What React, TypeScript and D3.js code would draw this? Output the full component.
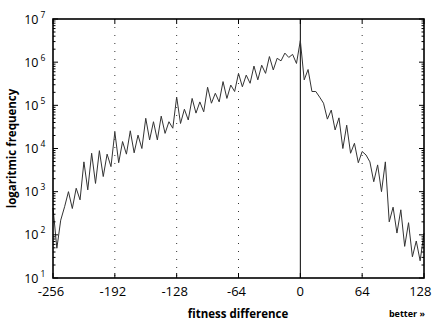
import React from 'react';
import * as d3 from 'd3';

const fitnessDiff = [
  -256, -252, -248, -244, -240, -236, -232, -228, -224, -220, -216, -212, -208, -204, -200, -196,
  -192, -188, -184, -180, -176, -172, -168, -164, -160, -156, -152, -148, -144, -140, -136, -132,
  -128, -124, -120, -116, -112, -108, -104, -100, -96, -92, -88, -84, -80, -76, -72, -68,
  -64, -60, -56, -52, -48, -44, -40, -36, -32, -28, -24, -20, -16, -12, -8, -4,
  0, 4, 8, 12, 16, 20, 24, 28, 32, 36, 40, 44, 48, 52, 56, 60,
  64, 68, 72, 76, 80, 84, 88, 92, 96, 100, 104, 108, 112, 116, 120, 124, 128,
];

const frequency = [
  420, 49, 219, 447, 1000, 407, 1200, 646, 4900, 1100, 7760, 1550, 8900, 2240, 7400, 3800,
  24000, 4680, 14500, 7400, 25700, 7940, 20400, 10000, 50100, 15800, 41700, 15800, 56200, 22400, 41700, 29500,
  155000, 38000, 81300, 45700, 144500, 66000, 120000, 70800, 263000, 112000, 190500, 120000, 355000, 144500, 295000, 209000,
  550000, 269000, 501000, 324000, 813000, 389000, 851000, 550000, 1349000, 661000, 1230000, 1072000, 1622000, 1288000, 1514000, 933000,
  3162000, 389000, 676000, 209000, 209000, 155000, 112000, 47900, 77600, 26900, 51300, 10000, 34700, 7760, 13200, 4680,
  8510, 7080, 4900, 1700, 4170, 1000, 4900, 200, 437, 110, 380, 54, 191, 31, 72, 25, 110,
];

const xTicks = [-256, -192, -128, -64, 0, 64, 128];
const gridTicks = [-192, -128, -64, 64];
const yExponents = [1, 2, 3, 4, 5, 6, 7];

const W = 433;
const H = 323;
const left = 53;
const right = 424;
const top = 19;
const bottom = 278;

export default function App() {
  const x = d3.scaleLinear().domain([-256, 128]).range([left, right]);
  const y = d3.scaleLog().domain([10, 1e7]).range([bottom, top]);

  const line = d3
    .line<number>()
    .x((_, i) => x(fitnessDiff[i]))
    .y((d) => y(d));

  const minor: number[] = [];
  for (let e = 1; e < 7; e++) {
    for (let m = 2; m <= 9; m++) minor.push(m * Math.pow(10, e));
  }

  const font = "'Open Sans', 'DejaVu Sans', sans-serif";
  const lastTick = xTicks[xTicks.length - 1];

  return (
    <svg
      width={W}
      height={H}
      style={{ position: 'absolute', left: 0, top: 0, background: '#fff' }}
      fontFamily={font}
    >
      <rect x={0} y={0} width={W} height={H} fill="#fff" />
      {gridTicks.map((t) => (
        <line
          key={'g' + t}
          x1={x(t)}
          x2={x(t)}
          y1={top}
          y2={bottom}
          stroke="#333"
          strokeWidth={1}
          strokeDasharray="1,7"
        />
      ))}
      <line x1={x(0)} x2={x(0)} y1={top} y2={bottom} stroke="#000" strokeWidth={1} />
      <path
        d={line(frequency) || ''}
        fill="none"
        stroke="#333"
        strokeWidth={1}
        strokeLinejoin="miter"
      />
      {minor.map((v) => (
        <g key={'m' + v}>
          <line x1={left} x2={left + 2.5} y1={y(v)} y2={y(v)} stroke="#000" strokeWidth={1} />
          <line x1={right} x2={right - 2.5} y1={y(v)} y2={y(v)} stroke="#000" strokeWidth={1} />
        </g>
      ))}
      {yExponents.map((e) => {
        const v = Math.pow(10, e);
        return (
          <g key={'y' + e}>
            <line x1={left} x2={left + 5} y1={y(v)} y2={y(v)} stroke="#000" strokeWidth={1} />
            <line x1={right} x2={right - 5} y1={y(v)} y2={y(v)} stroke="#000" strokeWidth={1} />
            <text x={38.5} y={y(v) + 4.5} textAnchor="end" fontSize={12.5} fill="#000">
              10
            </text>
            <text x={40.5} y={y(v) - 1.5} textAnchor="start" fontSize={8.5} fill="#000">
              {e}
            </text>
          </g>
        );
      })}
      {xTicks.map((t) => (
        <g key={'x' + t}>
          <line x1={x(t)} x2={x(t)} y1={bottom} y2={bottom - 5} stroke="#000" strokeWidth={1} />
          <line x1={x(t)} x2={x(t)} y1={top} y2={top + 5} stroke="#000" strokeWidth={1} />
          <text
            x={t === lastTick ? W - 1.5 : x(t) - (t < 0 ? 2 : 0)}
            y={296}
            textAnchor={t === lastTick ? 'end' : 'middle'}
            fontSize={13}
            fill="#000"
          >
            {t}
          </text>
        </g>
      ))}
      <rect
        x={left}
        y={top}
        width={right - left}
        height={bottom - top}
        fill="none"
        stroke="#000"
        strokeWidth={1.6}
      />
      <text
        x={238}
        y={318}
        textAnchor="middle"
        fontSize={11.5}
        fontWeight="bold"
        fill="#000"
      >
        fitness difference
      </text>
      <text x={425} y={317} textAnchor="end" fontSize={9} fontWeight="bold" fill="#000">
        better »
      </text>
      <text
        transform={`translate(16, ${(top + bottom) / 2}) rotate(-90)`}
        textAnchor="middle"
        fontSize={11.5}
        fontWeight="bold"
        fill="#000"
      >
        logaritmic frequency
      </text>
    </svg>
  );
}
